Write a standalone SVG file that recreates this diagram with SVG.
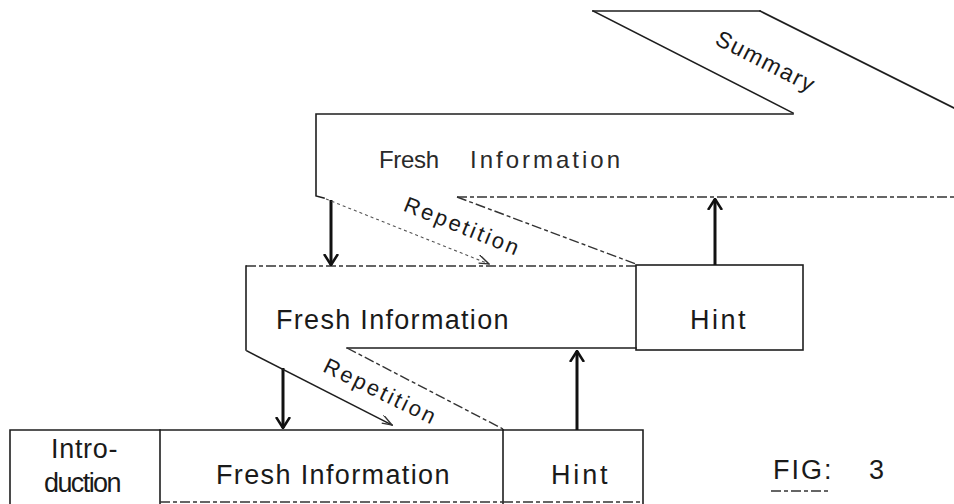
<svg xmlns="http://www.w3.org/2000/svg" width="954" height="504" viewBox="0 0 954 504">
<defs>
<style>
.ln{stroke:#1e1e1e;stroke-width:1.6;fill:none;stroke-linecap:square}
.dl{stroke:#333;stroke-width:1.4;fill:none;stroke-dasharray:10 3 4 3}
.dt{stroke:#555;stroke-width:1.1;fill:none;stroke-dasharray:3 3}
.ar{stroke:#111;stroke-width:3;fill:none}
text{font-family:"Liberation Sans","DejaVu Sans",sans-serif;fill:#1a1a1a}
.lb{font-size:27px;letter-spacing:1.5px}
.rp{font-size:22px;letter-spacing:2.5px}
</style>
<marker id="ah" viewBox="0 0 12 16" refX="11" refY="8" markerWidth="12" markerHeight="16" markerUnits="userSpaceOnUse" orient="auto">
<path d="M0,1 L11,8 L0,15" fill="none" stroke="#111" stroke-width="2.6"/>
</marker>
<marker id="th" viewBox="0 0 14 10" refX="13" refY="5" markerWidth="14" markerHeight="10" markerUnits="userSpaceOnUse" orient="auto">
<path d="M1,0 L13,5 L3,8" fill="none" stroke="#333" stroke-width="1.4"/>
</marker>
</defs>
<rect width="954" height="504" fill="#fff"/>

<g id="summary">
<line class="ln" x1="593" y1="11" x2="760" y2="11"/>
<line class="ln" x1="593" y1="11" x2="793" y2="113"/>
<line class="ln" x1="760" y1="11" x2="954" y2="108"/>
<text class="rp" transform="translate(765,63) rotate(27)" text-anchor="middle" dominant-baseline="middle" style="font-size:23px;letter-spacing:1.5px">Summary</text>
</g>

<g id="fresh-top">
<path class="ln" d="M793,114 L316,114 L316,196 L324,198"/>
<line class="dl" x1="457" y1="197" x2="954" y2="197"/>
<text style="font-size:24px;fill:#2a2a2a" y="168"><tspan x="379" textLength="60">Fresh</tspan><tspan x="470" textLength="150">Information</tspan></text>
</g>

<g id="repetition-top">
<line class="dl" x1="457" y1="197" x2="636" y2="264"/>
<text class="rp" transform="translate(462,228) rotate(22)" text-anchor="middle" dominant-baseline="middle">Repetition</text>
</g>

<g id="fresh-mid">
<line class="dl" x1="246" y1="266" x2="636" y2="266"/>
<line class="ln" x1="246" y1="266" x2="246" y2="350"/>
<line class="ln" x1="347" y1="348" x2="636" y2="348"/>
<text class="lb" x="276" y="329" textLength="234">Fresh Information</text>
</g>

<g id="hint-mid">
<rect class="ln" x="636" y="265" width="167" height="85"/>
<text class="lb" x="690" y="329" textLength="57">Hint</text>
</g>

<g id="repetition-low">
<line class="dl" x1="347" y1="348" x2="503" y2="429"/>
<text class="rp" transform="translate(380,393) rotate(26)" text-anchor="middle" dominant-baseline="middle">Repetition</text>
</g>

<g id="introduction">
<path class="ln" d="M10,504 L10,430 L160,430 L160,504"/>
<text class="lb" x="51" y="458" textLength="68">Intro-</text>
<text class="lb" x="44" y="492" textLength="79">duction</text>
</g>

<g id="fresh-low">
<line class="ln" x1="160" y1="430" x2="503" y2="430"/>
<line class="ln" x1="503" y1="430" x2="503" y2="504"/>
<line class="dl" x1="160" y1="502" x2="503" y2="502"/>
<text class="lb" x="216" y="484" textLength="235">Fresh Information</text>
</g>

<g id="hint-low">
<path class="ln" d="M503,430 L643,430 L643,504"/>
<line class="dl" x1="503" y1="502" x2="643" y2="502"/>
<text class="lb" x="551" y="484" textLength="58">Hint</text>
</g>

<g id="fig-label">
<text class="lb" x="773" y="479" textLength="60">FIG:</text>
<text class="lb" x="869" y="479">3</text>
<line class="dl" x1="771" y1="491" x2="830" y2="491"/>
</g>

<g id="connectors">
<line class="ar" x1="331" y1="200" x2="331" y2="265" marker-end="url(#ah)"/>
<line class="ar" x1="715" y1="265" x2="715" y2="199" marker-end="url(#ah)"/>
<line class="ar" x1="283" y1="368" x2="283" y2="428" marker-end="url(#ah)"/>
<line class="ar" x1="577" y1="430" x2="577" y2="351" marker-end="url(#ah)"/>
<line class="dt" x1="326" y1="199" x2="489" y2="264" marker-end="url(#th)"/>
<line class="ln" x1="247" y1="351" x2="392" y2="425" marker-end="url(#th)"/>
</g>
</svg>
